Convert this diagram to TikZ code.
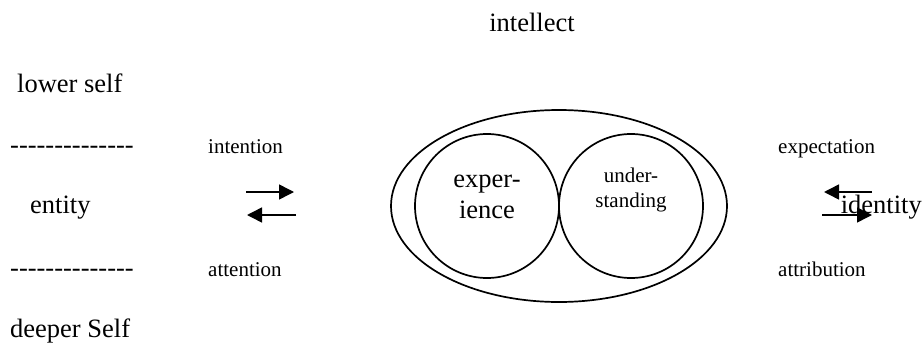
\documentclass[tikz,border=0pt]{standalone}
\usepackage{fontspec}
\setmainfont{Liberation Serif}
\usetikzlibrary{arrows.meta,shapes.geometric}
\newcommand{\dashrow}{\foreach \k in {1,...,14}{\mbox{-}}}
\tikzset{
  biglabel/.style={font=\fontsize{26.5}{31}\selectfont, inner sep=0pt},
  smalllabel/.style={font=\fontsize{21}{25}\selectfont, inner sep=0pt},
  ring/.style={draw, circle, inner sep=0pt, line width=1.7pt},
  flow/.style={->, line width=1.5pt}
}
\begin{document}
\begin{tikzpicture}[x=1pt, y=-1pt, line join=round, >={Triangle[length=15pt,width=15pt]}]
\useasboundingbox (0,0) rectangle (923,343);
% left column
\node[biglabel, anchor=base] (intellect) at (532,31) {intellect};
\node[biglabel, anchor=base west] (lower) at (17,92) {lower self};
\node[biglabel, anchor=base west] (topdash) at (10,153) {\dashrow};
\node[biglabel, anchor=base west] (entity) at (30,213) {entity};
\node[biglabel, anchor=base west] (bottomdash) at (10,276) {\dashrow};
\node[biglabel, anchor=base west] (deeper) at (10,337) {deeper Self};
\node[smalllabel, anchor=base west] (intention) at (208,153) {intention};
\node[smalllabel, anchor=base west] (attention) at (208,276) {attention};
% middle
\node[draw, ellipse, minimum width=336pt, minimum height=192pt, inner sep=0pt, line width=1.7pt] (intellectring) at (559,206) {};
\node[ring, minimum size=144pt] (experience) at (487,206) {};
\node[ring, minimum size=144pt] (understanding) at (631,206) {};
\node[biglabel, align=center, anchor=base] (experiencetext) at (487,218) {exper-\\ience};
\node[smalllabel, align=center, anchor=base] (understandingtext) at (631,207) {under-\\standing};
% right column
\node[smalllabel, anchor=base west] (expectation) at (778,153) {expectation};
\node[smalllabel, anchor=base west] (attribution) at (778,276) {attribution};
\node[biglabel, anchor=base east] (identity) at (922,213) {identity};
% arrows
\coordinate (entityout) at (246,192);
\coordinate (entityin) at (294,192);
\coordinate (entityback) at (296,215);
\coordinate (entityend) at (247,215);
\coordinate (identityout) at (872,192);
\coordinate (identityin) at (824,192);
\coordinate (identityback) at (822,215);
\coordinate (identityend) at (872,215);
\draw[flow] (entityout) -- (entityin);
\draw[flow] (entityback) -- (entityend);
\draw[flow] (identityout) -- (identityin);
\draw[flow] (identityback) -- (identityend);
\end{tikzpicture}
\end{document}
